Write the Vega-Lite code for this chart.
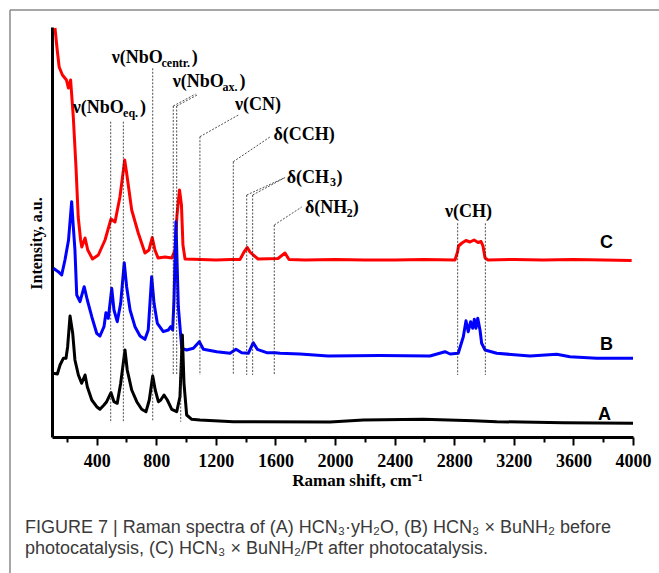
{
  "$schema": "https://vega.github.io/schema/vega-lite/v6.json",
  "width": 581,
  "height": 410,
  "autosize": {"type": "none"},
  "padding": {"left": 52, "top": 27, "right": 26, "bottom": 136},
  "background": "white",
  "config": {"view": {"stroke": null}},
  "resolve": {"axis": {"x": "independent"}},
  "title": {
    "text": ["FIGURE 7 | Raman spectra of (A) HCN₃·yH₂O, (B) HCN₃ × BuNH₂ before", "photocatalysis, (C) HCN₃ × BuNH₂/Pt after photocatalysis."],
    "orient": "bottom",
    "anchor": "start",
    "frame": "group",
    "dx": -27,
    "offset": -59,
    "font": "Liberation Sans",
    "fontSize": 18,
    "fontWeight": "normal",
    "color": "#3a3a3a",
    "lineHeight": 21
  },
  "datasets": {
    "spectra": [
      {"s":"C","wn":120,"I":409},{"s":"C","wn":135,"I":387},{"s":"C","wn":148,"I":370},{"s":"C","wn":170,"I":362},{"s":"C","wn":197,"I":357},{"s":"C","wn":210,"I":349},{"s":"C","wn":225,"I":357},{"s":"C","wn":243,"I":320},{"s":"C","wn":261,"I":270},{"s":"C","wn":276,"I":220},{"s":"C","wn":292,"I":197},{"s":"C","wn":300,"I":190},{"s":"C","wn":322,"I":199},{"s":"C","wn":340,"I":187},{"s":"C","wn":372,"I":178},{"s":"C","wn":411,"I":182},{"s":"C","wn":456,"I":197},{"s":"C","wn":496,"I":218},{"s":"C","wn":523,"I":215},{"s":"C","wn":556,"I":240},{"s":"C","wn":588,"I":277},{"s":"C","wn":601,"I":264},{"s":"C","wn":635,"I":227},{"s":"C","wn":679,"I":204},{"s":"C","wn":724,"I":184},{"s":"C","wn":751,"I":187},{"s":"C","wn":773,"I":199.5},{"s":"C","wn":791,"I":187},{"s":"C","wn":812,"I":179},{"s":"C","wn":859,"I":180},{"s":"C","wn":904,"I":179},{"s":"C","wn":926,"I":187},{"s":"C","wn":939,"I":222},{"s":"C","wn":956,"I":247},{"s":"C","wn":969,"I":232},{"s":"C","wn":979,"I":192},{"s":"C","wn":993,"I":178},{"s":"C","wn":1100,"I":177.5},{"s":"C","wn":1200,"I":177},{"s":"C","wn":1300,"I":177.5},{"s":"C","wn":1362,"I":177.5},{"s":"C","wn":1389,"I":185},{"s":"C","wn":1411,"I":189.5},{"s":"C","wn":1429,"I":185},{"s":"C","wn":1451,"I":182},{"s":"C","wn":1483,"I":178},{"s":"C","wn":1617,"I":178.5},{"s":"C","wn":1664,"I":184},{"s":"C","wn":1691,"I":177.5},{"s":"C","wn":1800,"I":177},{"s":"C","wn":2000,"I":177.5},{"s":"C","wn":2200,"I":177},{"s":"C","wn":2400,"I":177},{"s":"C","wn":2600,"I":177.5},{"s":"C","wn":2805,"I":177},{"s":"C","wn":2822,"I":185},{"s":"C","wn":2829,"I":191},{"s":"C","wn":2852,"I":194},{"s":"C","wn":2879,"I":196.5},{"s":"C","wn":2906,"I":195},{"s":"C","wn":2933,"I":197},{"s":"C","wn":2960,"I":194.5},{"s":"C","wn":2980,"I":195.5},{"s":"C","wn":2993,"I":191},{"s":"C","wn":3007,"I":179},{"s":"C","wn":3027,"I":177},{"s":"C","wn":3200,"I":177.5},{"s":"C","wn":3400,"I":177},{"s":"C","wn":3600,"I":177.5},{"s":"C","wn":3800,"I":177},{"s":"C","wn":3991,"I":176.5},
      {"s":"B","wn":109,"I":168.7},{"s":"B","wn":142,"I":165.3},{"s":"B","wn":165,"I":162},{"s":"B","wn":187,"I":177},{"s":"B","wn":199,"I":187},{"s":"B","wn":211,"I":197},{"s":"B","wn":232,"I":235.3},{"s":"B","wn":243,"I":210.3},{"s":"B","wn":254,"I":187},{"s":"B","wn":266,"I":142},{"s":"B","wn":288,"I":135.3},{"s":"B","wn":316,"I":150.3},{"s":"B","wn":337,"I":137},{"s":"B","wn":367,"I":120.3},{"s":"B","wn":400,"I":103.7},{"s":"B","wn":422,"I":101},{"s":"B","wn":449,"I":110.3},{"s":"B","wn":462,"I":124.3},{"s":"B","wn":478,"I":118.7},{"s":"B","wn":501,"I":148.7},{"s":"B","wn":516,"I":127},{"s":"B","wn":538,"I":115.3},{"s":"B","wn":561,"I":133.7},{"s":"B","wn":585,"I":174.3},{"s":"B","wn":601,"I":150.3},{"s":"B","wn":624,"I":127},{"s":"B","wn":657,"I":110.3},{"s":"B","wn":691,"I":101},{"s":"B","wn":724,"I":97.7},{"s":"B","wn":746,"I":107},{"s":"B","wn":769,"I":160.3},{"s":"B","wn":785,"I":133.7},{"s":"B","wn":807,"I":113.7},{"s":"B","wn":847,"I":105.3},{"s":"B","wn":881,"I":107},{"s":"B","wn":897,"I":110.3},{"s":"B","wn":910,"I":107},{"s":"B","wn":919,"I":137},{"s":"B","wn":932,"I":215.3},{"s":"B","wn":948,"I":130.3},{"s":"B","wn":971,"I":88.7},{"s":"B","wn":1004,"I":87},{"s":"B","wn":1049,"I":88.7},{"s":"B","wn":1089,"I":95.3},{"s":"B","wn":1116,"I":87.7},{"s":"B","wn":1206,"I":85.3},{"s":"B","wn":1295,"I":83.7},{"s":"B","wn":1335,"I":87.7},{"s":"B","wn":1373,"I":84.3},{"s":"B","wn":1418,"I":83.7},{"s":"B","wn":1451,"I":94.3},{"s":"B","wn":1478,"I":87.7},{"s":"B","wn":1541,"I":84.3},{"s":"B","wn":1597,"I":84.3},{"s":"B","wn":1631,"I":83.7},{"s":"B","wn":1765,"I":83},{"s":"B","wn":1953,"I":81},{"s":"B","wn":2300,"I":81.5},{"s":"B","wn":2637,"I":81},{"s":"B","wn":2738,"I":85.3},{"s":"B","wn":2772,"I":83},{"s":"B","wn":2827,"I":83.7},{"s":"B","wn":2861,"I":100.3},{"s":"B","wn":2879,"I":116.3},{"s":"B","wn":2894,"I":105.3},{"s":"B","wn":2910,"I":115.3},{"s":"B","wn":2924,"I":108.7},{"s":"B","wn":2935,"I":117.7},{"s":"B","wn":2946,"I":108.7},{"s":"B","wn":2958,"I":118.7},{"s":"B","wn":2973,"I":107},{"s":"B","wn":2984,"I":93.7},{"s":"B","wn":3007,"I":87},{"s":"B","wn":3085,"I":83.7},{"s":"B","wn":3309,"I":81},{"s":"B","wn":3488,"I":82.7},{"s":"B","wn":3577,"I":80.3},{"s":"B","wn":3756,"I":78.7},{"s":"B","wn":4000,"I":78.7},
      {"s":"A","wn":109,"I":63.7},{"s":"A","wn":136,"I":63},{"s":"A","wn":154,"I":72},{"s":"A","wn":176,"I":78.7},{"s":"A","wn":194,"I":78.7},{"s":"A","wn":205,"I":90.3},{"s":"A","wn":221,"I":121},{"s":"A","wn":239,"I":103.7},{"s":"A","wn":254,"I":77},{"s":"A","wn":277,"I":62},{"s":"A","wn":299,"I":53.7},{"s":"A","wn":322,"I":62},{"s":"A","wn":337,"I":50.3},{"s":"A","wn":367,"I":37},{"s":"A","wn":400,"I":30.3},{"s":"A","wn":422,"I":27.7},{"s":"A","wn":449,"I":32},{"s":"A","wn":467,"I":35.3},{"s":"A","wn":496,"I":44.3},{"s":"A","wn":516,"I":35.3},{"s":"A","wn":538,"I":33.7},{"s":"A","wn":561,"I":53.7},{"s":"A","wn":590,"I":87},{"s":"A","wn":605,"I":67},{"s":"A","wn":635,"I":47},{"s":"A","wn":669,"I":35.3},{"s":"A","wn":702,"I":27.7},{"s":"A","wn":731,"I":25.3},{"s":"A","wn":753,"I":37},{"s":"A","wn":776,"I":61},{"s":"A","wn":793,"I":47},{"s":"A","wn":814,"I":35.3},{"s":"A","wn":830,"I":37},{"s":"A","wn":852,"I":42},{"s":"A","wn":874,"I":37},{"s":"A","wn":904,"I":27.7},{"s":"A","wn":937,"I":25.3},{"s":"A","wn":959,"I":40.3},{"s":"A","wn":975,"I":102},{"s":"A","wn":986,"I":53.7},{"s":"A","wn":1004,"I":22},{"s":"A","wn":1038,"I":17.7},{"s":"A","wn":1093,"I":17},{"s":"A","wn":1317,"I":15.3},{"s":"A","wn":1966,"I":15},{"s":"A","wn":2190,"I":17},{"s":"A","wn":2592,"I":17.7},{"s":"A","wn":2928,"I":16.3},{"s":"A","wn":3085,"I":15.3},{"s":"A","wn":3532,"I":14.3},{"s":"A","wn":4000,"I":13.7}
    ],
    "segments": [
      {"x1":494,"y1":315.3,"x2":494,"y2":15.3},
      {"x1":579,"y1":315.3,"x2":579,"y2":15.3},
      {"x1":776,"y1":368.7,"x2":776,"y2":15.3},
      {"x1":914,"y1":331,"x2":914,"y2":62},
      {"x1":937,"y1":331,"x2":937,"y2":62},
      {"x1":964,"y1":90,"x2":964,"y2":15.3},
      {"x1":1093,"y1":300.3,"x2":1093,"y2":62},
      {"x1":1317,"y1":275.3,"x2":1317,"y2":62},
      {"x1":1407,"y1":242,"x2":1407,"y2":62},
      {"x1":1447,"y1":242,"x2":1447,"y2":62},
      {"x1":1592,"y1":212,"x2":1592,"y2":62},
      {"x1":2823,"y1":213.7,"x2":2823,"y2":62},
      {"x1":3009,"y1":213.7,"x2":3009,"y2":62},
      {"x1":914,"y1":331,"x2":1064,"y2":343},
      {"x1":937,"y1":331,"x2":1074,"y2":342},
      {"x1":1093,"y1":300.3,"x2":1351,"y2":322},
      {"x1":1317,"y1":275.3,"x2":1563,"y2":300},
      {"x1":1407,"y1":242,"x2":1653,"y2":258.7},
      {"x1":1447,"y1":242,"x2":1665,"y2":259.5},
      {"x1":1592,"y1":212,"x2":1776,"y2":230}
    ],
    "border": [
      {"x1":-182,"y1":427,"x2":4250,"y2":427},
      {"x1":-182,"y1":427,"x2":-182,"y2":-140}
    ],
    "labelsMain": [
      {"wn":239,"I":323.7,"t":"ν(NbO"},{"wn":691,"I":323.7,"t":")"},
      {"wn":501,"I":374.3,"t":"ν(NbO"},{"wn":1038,"I":374.3,"t":")"},
      {"wn":910,"I":349.7,"t":"ν(NbO"},{"wn":1359,"I":349.7,"t":")"},
      {"wn":1328,"I":327,"t":"ν(CN)"},
      {"wn":1586,"I":297,"t":"δ(CCH)"},
      {"wn":1675,"I":254.3,"t":"δ(CH"},{"wn":2010,"I":254.3,"t":")"},
      {"wn":1798,"I":223.7,"t":"δ(NH"},{"wn":2119,"I":223.7,"t":")"},
      {"wn":2738,"I":220.3,"t":"ν(CH)"}
    ],
    "labelsSub": [
      {"wn":577,"I":320.3,"t":"eq."},
      {"wn":835,"I":370.3,"t":"centr."},
      {"wn":1245,"I":346.3,"t":"ax."},
      {"wn":1966,"I":251,"t":"3"},
      {"wn":2078,"I":220.5,"t":"2"}
    ],
    "seriesLabels": [
      {"wn":3779,"I":189,"t":"C"},
      {"wn":3779,"I":87,"t":"B"},
      {"wn":3765,"I":17,"t":"A"}
    ]
  },
  "layer": [
    {
      "data": {"name": "spectra"},
      "mark": {"type": "line", "strokeWidth": 3, "strokeJoin": "round"},
      "encoding": {
        "x": {
          "field": "wn", "type": "quantitative",
          "scale": {"domain": [100, 4000], "nice": false, "zero": false},
          "axis": {
            "orient": "bottom",
            "title": "Raman shift, cm⁻¹",
            "values": [400,800,1200,1600,2000,2400,2800,3200,3600,4000],
            "format": "d",
            "tickSize": 8,
            "tickWidth": 2, "tickColor": "#000",
            "domainColor": "#000", "domainWidth": 3,
            "grid": false,
            "labelFont": "Liberation Serif", "labelFontWeight": "bold", "labelFontSize": 18, "labelColor": "#000",
            "labelPadding": 7, "labelFlush": false, "labelOverlap": false,
            "titleFont": "Liberation Serif", "titleFontWeight": "bold", "titleFontSize": 17, "titleColor": "#000",
            "titlePadding": 2, "titleX": 305
          }
        },
        "y": {
          "field": "I", "type": "quantitative",
          "scale": {"domain": [0, 410], "nice": false, "zero": false},
          "axis": {
            "title": "Intensity, a.u.",
            "ticks": false, "labels": false, "grid": false,
            "domainColor": "#000", "domainWidth": 3,
            "titleFont": "Liberation Serif", "titleFontWeight": "bold", "titleFontSize": 16, "titleColor": "#000",
            "titlePadding": 8, "titleY": 216
          }
        },
        "color": {"field": "s", "type": "nominal", "scale": {"domain": ["A", "B", "C"], "range": ["#000000", "#0000ff", "#ff0000"]}, "legend": null},
        "detail": {"field": "s"}
      }
    },
    {
      "data": {"name": "border"},
      "mark": {"type": "rule", "color": "#8a8a8a", "strokeWidth": 1.5},
      "encoding": {
        "x": {"field": "x1", "type": "quantitative", "axis": null},
        "x2": {"field": "x2"},
        "y": {"field": "y1", "type": "quantitative"},
        "y2": {"field": "y2"}
      }
    },
    {
      "data": {"name": "segments"},
      "mark": {"type": "rule", "color": "#222", "strokeWidth": 0.8, "strokeDash": [2, 1.5]},
      "encoding": {
        "x": {
          "field": "x1", "type": "quantitative",
          "axis": {
            "orient": "bottom",
            "values": [200,600,1000,1400,1800,2200,2600,3000,3400,3800],
            "tickSize": 5, "tickWidth": 2, "tickColor": "#000",
            "labels": false, "domain": false, "grid": false, "title": null
          }
        },
        "x2": {"field": "x2"},
        "y": {"field": "y1", "type": "quantitative"},
        "y2": {"field": "y2"}
      }
    },
    {
      "data": {"name": "labelsMain"},
      "mark": {"type": "text", "align": "left", "baseline": "alphabetic", "font": "Liberation Serif", "fontWeight": "bold", "fontSize": 18, "color": "#000"},
      "encoding": {
        "x": {"field": "wn", "type": "quantitative", "axis": null},
        "y": {"field": "I", "type": "quantitative"},
        "text": {"field": "t"}
      }
    },
    {
      "data": {"name": "labelsSub"},
      "mark": {"type": "text", "align": "left", "baseline": "alphabetic", "font": "Liberation Serif", "fontWeight": "bold", "fontSize": 12, "color": "#000"},
      "encoding": {
        "x": {"field": "wn", "type": "quantitative", "axis": null},
        "y": {"field": "I", "type": "quantitative"},
        "text": {"field": "t"}
      }
    },
    {
      "data": {"name": "seriesLabels"},
      "mark": {"type": "text", "align": "left", "baseline": "alphabetic", "font": "Liberation Sans", "fontWeight": "bold", "fontSize": 18, "color": "#000"},
      "encoding": {
        "x": {"field": "wn", "type": "quantitative", "axis": null},
        "y": {"field": "I", "type": "quantitative"},
        "text": {"field": "t"}
      }
    }
  ]
}
